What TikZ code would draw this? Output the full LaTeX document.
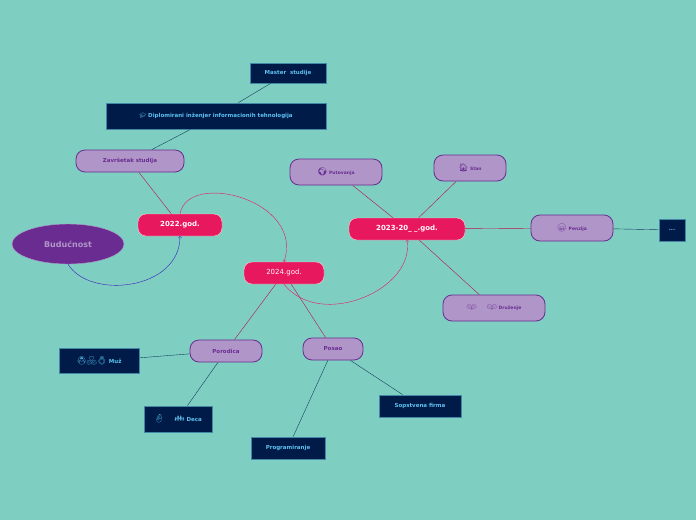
\documentclass[tikz,border=0pt]{standalone}
\usepackage{fontspec}
\setmainfont{DejaVu Sans}
\newfontfamily\emo{Noto Emoji}
\usepackage{tikz}
\usetikzlibrary{positioning,shapes.geometric}
\definecolor{bg}{HTML}{7ECEC1}
\definecolor{rootc}{HTML}{6A2C91}
\definecolor{yearc}{HTML}{E8185F}
\definecolor{subc}{HTML}{B096C8}
\definecolor{leafc}{HTML}{001B48}
\definecolor{leaft}{HTML}{5EC0F0}

\begin{document}
\begin{tikzpicture}[x=1pt, y=-1pt, font=\bfseries]
  % Styles
  \tikzstyle{root}=[ellipse, draw=subc, fill=rootc, text=subc, minimum width=112pt, minimum height=40pt, font=\bfseries\fontsize{8}{9}\selectfont]
  \tikzstyle{year}=[rectangle, rounded corners=8pt, draw=pink!70, fill=yearc, text=white!90!pink, minimum height=22pt, font=\bfseries\fontsize{7}{8}\selectfont]
  \tikzstyle{sub}=[rectangle, rounded corners=9pt, draw=rootc, thick, fill=subc, text=rootc, minimum height=24pt, font=\bfseries\fontsize{5.5}{6}\selectfont]
  \tikzstyle{leaf}=[rectangle, draw=leaft!70!black, thick, fill=leafc, text=leaft, minimum height=22pt, font=\bfseries\fontsize{5.5}{6}\selectfont]
  \tikzstyle{pinkline}=[draw=yearc!80!black, thin]
  \tikzstyle{darkline}=[draw=leafc!80!bg, thin]

  \fill[bg] (0,0) rectangle (696,520);

  % Root and years
  \node[root] (root) at (68,244) {Budućnost};
  \node[year, minimum width=84pt] (y22) at (180,225) {2022.god.};
  \node[year, minimum width=80pt, font=\fontsize{7}{8}\selectfont] (y24) at (284,273) {2024.god.};
  \node[year, minimum width=116pt] (y23) at (407,229) {2023-20\_ \_.god.};

  % 2022
  \node[sub, minimum width=108pt, minimum height=22pt] (zav) at (130,161) {Završetak studija};
  \node[leaf, minimum width=220pt, minimum height=26pt] (dipl) at (216,116) {{\emo 🎓}\ Diplomirani inženjer informacionih tehnologija};
  \node[leaf, minimum width=76pt, minimum height=20pt] (mast) at (288,73) {Master\ \ studije};

  % 2023-20__
  \node[sub, minimum width=92pt, minimum height=26pt, font=\bfseries\fontsize{4.5}{5}\selectfont] (put) at (336,172) {{\emo\fontsize{8}{9}\selectfont 🌍}\ Putovanja};
  \node[sub, minimum width=72pt, minimum height=26pt, font=\bfseries\fontsize{4.5}{5}\selectfont] (stan) at (470,168) {{\emo\fontsize{8}{9}\selectfont 🏠}\ Stan};
  \node[sub, minimum width=82pt, minimum height=26pt, font=\bfseries\fontsize{4.5}{5}\selectfont] (penz) at (572,228) {{\emo\fontsize{8}{9}\selectfont 😁}\ Penzija};
  \node[leaf, minimum width=26pt, minimum height=22pt, inner sep=1pt] (dots) at (672,230) {...};
  \node[sub, minimum width=102pt, minimum height=26pt, font=\bfseries\fontsize{4.5}{5}\selectfont] (druz) at (494,308) {{\emo\fontsize{8}{9}\selectfont 👫 👭}\ Druženje};

  % 2024
  \node[sub, minimum width=72pt, minimum height=22pt] (por) at (226,351) {Porodica};
  \node[leaf, minimum width=80pt, minimum height=25pt] (muz) at (99,361) {{\emo\fontsize{8}{9}\selectfont 👰💑💍}\ Muž};
  \node[leaf, minimum width=68pt, minimum height=26pt] (deca) at (178,419) {{\emo\fontsize{8}{9}\selectfont 👶 👪}\ Deca};
  \node[sub, minimum width=60pt, minimum height=22pt] (pos) at (333,349) {Posao};
  \node[leaf, minimum width=82pt, minimum height=22pt] (firm) at (420,406) {Sopstvena firma};
  \node[leaf, minimum width=74pt, minimum height=22pt] (prog) at (288,448) {Programiranje};

  % Connectors
  \draw[->, rootc!60!blue] (root.south) .. controls (90,300) and (180,290) .. (y22.south);
  \draw[->, yearc] (y22.north) .. controls (188,170) and (305,200) .. (y24.north);
  \draw[->, yearc] (y24.south) .. controls (320,330) and (415,290) .. (y23.south);
  \draw[pinkline] (y22) -- (zav);
  \draw[darkline] (zav) -- (dipl);
  \draw[darkline] (dipl) -- (mast);
  \draw[pinkline] (y23) -- (put);
  \draw[pinkline] (y23) -- (stan);
  \draw[pinkline] (y23) -- (penz);
  \draw[darkline] (penz) -- (dots);
  \draw[pinkline] (y23) -- (druz);
  \draw[pinkline] (y24) -- (por);
  \draw[pinkline] (y24) -- (pos);
  \draw[darkline] (por) -- (muz);
  \draw[darkline] (por) -- (deca);
  \draw[darkline] (pos) -- (firm);
  \draw[darkline] (pos) -- (prog);
\end{tikzpicture}
\end{document}
